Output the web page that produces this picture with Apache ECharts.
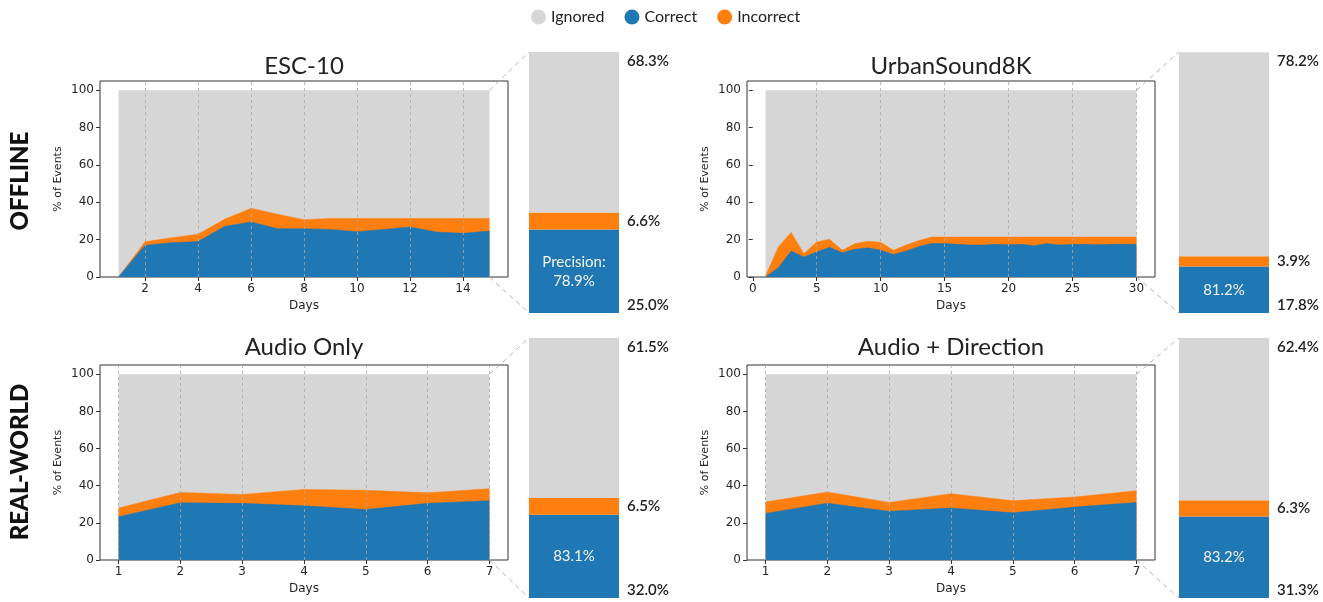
<!DOCTYPE html>
<html><head><meta charset="utf-8">
<script src="https://cdn.jsdelivr.net/npm/echarts@6/dist/echarts.min.js"></script>
<style>html,body{margin:0;padding:0;background:#fff}#c{width:1323px;height:602px}</style>
</head><body><div id="c"></div>
<script>
// ---------- data ----------
const escDays = [1,2,3,4,5,6,7,8,9,10,11,12,13,14,15];
const escCorrect   = [0,17.0,18.4,19.0,27.1,29.5,25.9,25.9,25.5,24.3,25.5,26.8,24.1,23.4,24.6];
const escIncorrect = [0,1.9,2.6,3.9,3.8,7.3,7.7,4.8,5.9,7.1,5.9,4.6,7.3,8.0,6.8];

const usDays = [1,2,3,4,5,6,7,8,9,10,11,12,13,14,15,16,17,18,19,20,21,22,23,24,25,26,27,28,29,30];
const usCorrect   = [0,5.0,13.9,10.7,13.4,15.9,13.0,14.8,15.7,14.3,12.1,13.9,16.4,17.9,17.9,17.5,17.1,17.1,17.5,17.3,17.5,16.8,17.9,17.1,17.5,17.5,17.3,17.5,17.5,17.6];
const usIncorrect = [0.5,11.1,10.0,1.8,5.4,4.3,1.3,3.1,3.4,4.3,2.2,3.2,3.1,3.5,3.5,3.9,4.3,4.3,3.9,4.1,3.9,4.6,3.5,4.3,3.9,3.9,4.1,3.9,3.9,3.8];

const rwDays = [1,2,3,4,5,6,7];
const audioCorrect   = [23.3,30.8,30.5,29.2,27.2,30.5,31.9];
const audioIncorrect = [4.7,5.6,4.8,8.8,10.3,5.7,6.5];
const dirCorrect     = [25.1,30.6,26.2,28.0,25.4,28.5,31.0];
const dirIncorrect   = [6.1,6.0,4.8,7.7,6.5,5.4,6.3];

const panelTitles = ['ESC-10','UrbanSound8K','Audio Only','Audio + Direction'];
const rowLabels = ['OFFLINE','REAL-WORLD'];
const legendNames = ['Ignored','Correct','Incorrect'];
const escTicks = [2,4,6,8,10,12,14];
const usTicks = [0,5,10,15,20,25,30];
const rwTicks = [1,2,3,4,5,6,7];
const yTicks = [0,20,40,60,80,100];

const barCorrect   = [32.0,17.8,32.0,31.3];
const barIncorrect = [6.5,3.9,6.5,6.3];
const barIgnored   = [61.5,78.2,61.5,62.4];
const barTopLabels    = ['68.3%','78.2%','61.5%','62.4%'];
const barMidLabels    = ['6.6%','3.9%','6.5%','6.3%'];
const barBottomLabels = ['25.0%','17.8%','32.0%','31.3%'];
const barInnerLabels  = ['Precision:\n78.9%','81.2%','83.1%','83.2%'];

// ---------- layout / style ----------
const C_IGN = '#d6d6d6', C_COR = '#1f77b4', C_INC = '#ff7f0e';
const TICK_FONT = 'DejaVu Sans';
const panels = [
  {days: escDays, c: escCorrect, i: escIncorrect, ticks: escTicks, gl: escTicks, left: 100, top: 81, h: 196, barLeft: 529, barTop: 52, barH: 261},
  {days: usDays, c: usCorrect, i: usIncorrect, ticks: usTicks, gl: usTicks.filter(v => v > 0), left: 747, top: 81, h: 196, barLeft: 1179, barTop: 52, barH: 261},
  {days: rwDays, c: audioCorrect, i: audioIncorrect, ticks: rwTicks, gl: rwTicks, left: 100, top: 365, h: 195, barLeft: 529, barTop: 338, barH: 260},
  {days: rwDays, c: dirCorrect, i: dirIncorrect, ticks: rwTicks, gl: rwTicks, left: 747, top: 365, h: 195, barLeft: 1179, barTop: 338, barH: 260}
];
const PW = 408, BW = 90;

const grids = [], xAxes = [], yAxes = [], series = [];
panels.forEach((p, k) => {
  const lo = p.days[0], hi = p.days[p.days.length - 1];
  const m = (hi - lo) * 0.05;
  grids.push({left: p.left, top: p.top, width: PW, height: p.h, show: true, borderColor: '#333', borderWidth: 1, backgroundColor: 'transparent'});
  xAxes.push({type: 'value', gridIndex: k, min: lo - m, max: hi + m,
    axisLine: {show: false}, splitLine: {show: false},
    axisTick: {show: true, customValues: p.ticks, length: 4, lineStyle: {color: '#333'}},
    axisLabel: {customValues: p.ticks, fontFamily: TICK_FONT, fontSize: 12, color: '#262626', margin: 6},
    name: 'Days', nameLocation: 'middle', nameGap: 23,
    nameTextStyle: {fontFamily: TICK_FONT, fontSize: 12, color: '#262626'}});
  yAxes.push({type: 'value', gridIndex: k, min: 0, max: 105,
    axisLine: {show: false}, splitLine: {show: false},
    axisTick: {show: true, customValues: yTicks, length: 4, lineStyle: {color: '#333'}},
    axisLabel: {customValues: yTicks, fontFamily: TICK_FONT, fontSize: 12, color: '#262626', margin: 6},
    name: '% of Events', nameLocation: 'middle', nameGap: 36,
    nameTextStyle: {fontFamily: TICK_FONT, fontSize: 11, color: '#262626'}});
  const common = {type: 'line', xAxisIndex: k, yAxisIndex: k, symbol: 'none', showSymbol: false, silent: true};
  // ignored layer: full 100% band
  series.push(Object.assign({}, common, {
    name: 'Ignored', z: 1,
    data: p.days.map(d => [d, 100]),
    itemStyle: {color: C_IGN}, lineStyle: {width: 0, color: C_IGN}, areaStyle: {color: C_IGN, opacity: 1},
    markLine: {silent: true, symbol: ['none', 'none'], label: {show: false},
      lineStyle: {color: '#a9a9a9', type: [3, 3], width: 0.8},
      data: p.gl.map(v => ({xAxis: v}))}
  }));
  // incorrect layer drawn as the cumulative top (correct + incorrect), then correct on top of it
  series.push(Object.assign({}, common, {
    name: 'Incorrect', z: 3,
    data: p.days.map((d, j) => [d, p.c[j] + p.i[j]]),
    itemStyle: {color: C_INC}, lineStyle: {width: 0.5, color: C_INC}, areaStyle: {color: C_INC, opacity: 1}
  }));
  series.push(Object.assign({}, common, {
    name: 'Correct', z: 4,
    data: p.days.map((d, j) => [d, p.c[j]]),
    itemStyle: {color: C_COR}, lineStyle: {width: 0.5, color: C_COR}, areaStyle: {color: C_COR, opacity: 1}
  }));
});
panels.forEach((p, k) => {
  const g = 4 + k;
  grids.push({left: p.barLeft, top: p.barTop, width: BW, height: p.barH, show: false});
  xAxes.push({type: 'category', gridIndex: g, data: [''], show: false});
  yAxes.push({type: 'value', gridIndex: g, min: 0, max: 100, show: false});
  const common = {type: 'bar', xAxisIndex: g, yAxisIndex: g, stack: 'b' + k, barWidth: '100%', silent: true};
  series.push(Object.assign({}, common, {name: 'Correct', data: [barCorrect[k]], itemStyle: {color: C_COR},
    label: {show: true, position: 'inside', formatter: barInnerLabels[k], color: '#f2f2f2', fontFamily: 'Lato', fontSize: 15, lineHeight: 19, align: 'center'}}));
  series.push(Object.assign({}, common, {name: 'Incorrect', data: [barIncorrect[k]], itemStyle: {color: C_INC}}));
  series.push(Object.assign({}, common, {name: 'Ignored', data: [barIgnored[k]], itemStyle: {color: C_IGN}}));
});

const chart = echarts.init(document.getElementById('c'), null, {renderer: 'canvas'});
chart.setOption({
  animation: false,
  backgroundColor: '#fff',
  legend: {data: legendNames, left: 526, top: 4, icon: 'circle', itemWidth: 15, itemHeight: 15, itemGap: 20,
    textStyle: {fontFamily: 'Lato', fontSize: 16, color: '#222'}},
  grid: grids, xAxis: xAxes, yAxis: yAxes, series: series
});

// decorations: titles, row labels, zoom connectors, bar side labels
const gfx = [];
panels.forEach((p, k) => {
  gfx.push({type: 'text', x: p.left + PW / 2, y: p.top - (k < 2 ? 15 : 18), z: 100,
    style: {text: panelTitles[k], font: '24px Lato', fill: '#222', textAlign: 'center', textVerticalAlign: 'middle'}});
  const last = p.days[p.days.length - 1];
  const pTop = chart.convertToPixel({xAxisIndex: k, yAxisIndex: k}, [last, 100]);
  const pBot = chart.convertToPixel({xAxisIndex: k, yAxisIndex: k}, [last, 0]);
  const lineStyle = {stroke: '#b5b5b5', lineWidth: 1, lineDash: [5, 4]};
  gfx.push({type: 'line', z: 100, shape: {x1: pTop[0], y1: pTop[1], x2: p.barLeft, y2: p.barTop}, style: lineStyle});
  gfx.push({type: 'line', z: 100, shape: {x1: pBot[0], y1: pBot[1], x2: p.barLeft, y2: p.barTop + p.barH}, style: lineStyle});
  const g = 4 + k;
  const yTop = chart.convertToPixel({yAxisIndex: g}, 100);
  const yMid = chart.convertToPixel({yAxisIndex: g}, barCorrect[k] + barIncorrect[k] / 2);
  const yBot = chart.convertToPixel({yAxisIndex: g}, 0);
  const lx = p.barLeft + BW + 8;
  const ls = (t) => ({text: t, font: '600 15px Lato', fill: '#222', textAlign: 'left', textVerticalAlign: 'middle'});
  gfx.push({type: 'text', x: lx, y: yTop + 9, z: 100, style: ls(barTopLabels[k])});
  gfx.push({type: 'text', x: lx, y: yMid, z: 100, style: ls(barMidLabels[k])});
  gfx.push({type: 'text', x: lx, y: yBot - 8, z: 100, style: ls(barBottomLabels[k])});
});
gfx.push({type: 'text', x: 20, y: 181, rotation: Math.PI / 2, z: 100,
  style: {text: rowLabels[0], font: '900 24px Lato', fill: '#111', textAlign: 'center', textVerticalAlign: 'middle'}});
gfx.push({type: 'text', x: 20, y: 462, rotation: Math.PI / 2, z: 100,
  style: {text: rowLabels[1], font: '900 24px Lato', fill: '#111', textAlign: 'center', textVerticalAlign: 'middle'}});
chart.setOption({graphic: gfx});
</script>
</body></html>
